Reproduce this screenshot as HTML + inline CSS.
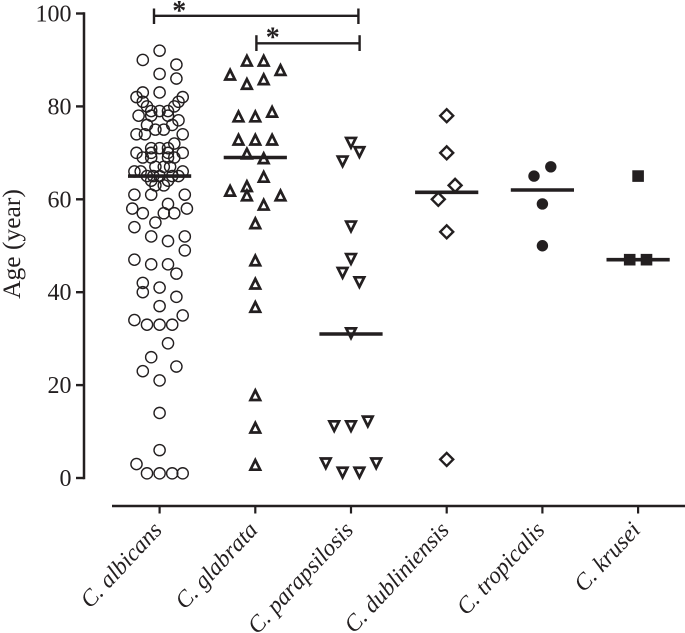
<!DOCTYPE html>
<html lang="en">
<head>
<meta charset="utf-8">
<title>Age by Candida species</title>
<style>
html,body{margin:0;padding:0;background:#fff;width:685px;height:633px;overflow:hidden}
svg{display:block}
text{font-family:"Liberation Serif",serif;fill:#231f20}
</style>
</head>
<body>
<svg id="chart" width="685" height="633" viewBox="0 0 685 633" xmlns="http://www.w3.org/2000/svg"></svg>
<script>
const categories = ['C. albicans','C. glabrata','C. parapsilosis','C. dubliniensis','C. tropicalis','C. krusei'];
const yTickLabels = [0,20,40,60,80,100];
const medians = [65,69,31,61.5,62,47];
const markerKinds = ['circle','triangle','inverted-triangle','diamond','filled-circle','filled-square'];

const albicansAges = [92,90,89,87,86,83,83,82,82,81,81,80,80,79,79,79,78,78,78,77,76,76,75,75,74,74,74,72,71,71,71,70,70,70,70,69,69,69,69,67,67,67,66,66,66,65,65,65,65,65,64,64,63,63,61,61,61,59,58,58,57,57,57,55,54,52,52,51,49,47,46,46,44,42,41,40,39,37,35,34,33,33,33,29,26,24,23,21,14,6,3,1,1,1,1];
const albicansSlots = [0,-4,4,0,4,-4,0,-5.5,5.5,-4,4.5,-3,3.5,-2,0,2,-5,-2,2,4.5,-3,3,-1,1,-5.5,-3.5,5.5,3.5,-2,0,2,-5.5,-2,2,5.5,-4,-2,2,3.5,-1,1,2.5,-6,-4.5,5.5,-3,-1.5,0,3,4.5,-2,2,-1,1,-6,-2,6,2,-6.5,6.5,-4,1,3.5,-1,-6,-2,6,2,6,-6,-2,2,4,-4,0,-4,4,0,5.5,-6,-3,0,3,2,-2,4,-4,0,0,0,-5.5,-3,0,3,5.5];
const glabrataAges = [90,90,88,87,86,85,79,78,78,73,73,73,70,69,65,63,62,61,61,59,55,47,42,37,18,11,3];
const glabrataSlots = [-2,2,6,-6,2,-2,4,-4,0,-4,0,4,-2,2,2,-2,-6,-2,6,2,0,0,0,0,0,0,0];
const parapsilosisAges = [72,70,68,54,47,44,42,31,12,11,11,3,3,1,1];
const parapsilosisSlots = [0,2,-2,0,0,-2,2,0,4,-4,0,-6,6,-2,2];
const dubliniensisAges = [78,70,63,60,53,4];
const dubliniensisSlots = [0,0,2,-2,0,0];
const tropicalisAges = [67,65,59,50];
const tropicalisSlots = [2,-2,0,0];
const kruseiAges = [65,47,47];
const kruseiSlots = [0,-2,2];

const seriesAges = [albicansAges,glabrataAges,parapsilosisAges,dubliniensisAges,tropicalisAges,kruseiAges];
const seriesSlots = [albicansSlots,glabrataSlots,parapsilosisSlots,dubliniensisSlots,tropicalisSlots,kruseiSlots];

const INK = '#231f20';
const svg = document.getElementById('chart');
const NS = 'http://www.w3.org/2000/svg';
const xScale = function(i){ return 159.6 + 95.7 * i; };
const yScale = function(v){ return 478 - 4.645 * v; };
const slotWidth = 4.2;

function make(tag, attrs, parent){
  const el = document.createElementNS(NS, tag);
  for (const k in attrs) el.setAttribute(k, attrs[k]);
  (parent || svg).appendChild(el);
  return el;
}
function slug(s){ return s.toLowerCase().replace(/[^a-z]+/g,'-').replace(/^-|-$/g,''); }

/* y axis */
const yAxisLine = make('line',{x1:84,x2:84,y1:yScale(100)-1.2,y2:yScale(0)+1.2,stroke:INK,'stroke-width':2.5});


yTickLabels.forEach(function(t){
  const tick = make('line',{x1:76,x2:84,y1:yScale(t),y2:yScale(t),stroke:INK,'stroke-width':2.4});
  
  
  const label = make('text',{x:71.5,y:yScale(t)+8,'text-anchor':'end','font-size':24});
  
  
  label.textContent = t;
});
const yTitle = make('text',{x:0,y:0,'text-anchor':'middle','font-size':25.5,transform:'translate(20,244) rotate(-90)'});


yTitle.textContent = 'Age (year)';

/* x axis */
const xAxisLine = make('line',{x1:112,x2:685,y1:506,y2:506,stroke:INK,'stroke-width':2.5});


categories.forEach(function(c,i){
  const x = xScale(i);
  const tick = make('line',{x1:x,x2:x,y1:506,y2:513.5,stroke:INK,'stroke-width':2.2});
  
  
  const label = make('text',{x:0,y:0,'text-anchor':'end','font-size':23.5,'font-style':'italic',transform:'translate('+(x+3.5)+',531) rotate(-47)'});
  
  
  label.textContent = c;
});

/* markers */
function drawMark(kind, cx, cy){
  let el;
  if (kind === 'circle') {
    el = make('circle',{cx:cx,cy:cy,r:5.6,fill:'none',stroke:INK,'stroke-width':1.4});
  } else if (kind === 'filled-circle') {
    el = make('circle',{cx:cx,cy:cy,r:5.7,fill:INK,stroke:'none'});
  } else if (kind === 'filled-square') {
    el = make('rect',{x:cx-5.8,y:cy-5.8,width:11.6,height:11.6,fill:INK,stroke:'none'});
  } else if (kind === 'triangle') {
    el = make('path',{d:'M'+cx+' '+(cy-4)+'L'+(cx+4.8)+' '+(cy+5.6)+'L'+(cx-4.8)+' '+(cy+5.6)+'Z',fill:'none',stroke:INK,'stroke-width':2.7,'stroke-linejoin':'miter','stroke-miterlimit':8});
  } else if (kind === 'inverted-triangle') {
    el = make('path',{d:'M'+cx+' '+(cy+4)+'L'+(cx+4.8)+' '+(cy-5.6)+'L'+(cx-4.8)+' '+(cy-5.6)+'Z',fill:'none',stroke:INK,'stroke-width':2.7,'stroke-linejoin':'miter','stroke-miterlimit':8});
  } else {
    el = make('path',{d:'M'+cx+' '+(cy-6.5)+'L'+(cx+6.5)+' '+cy+'L'+cx+' '+(cy+6.5)+'L'+(cx-6.5)+' '+cy+'Z',fill:'none',stroke:INK,'stroke-width':2.4});
  }
  return el;
}
categories.forEach(function(c,i){
  const name = slug(c);
  const group = make('g',{});
  
  
  seriesAges[i].forEach(function(v,j){
    const p = drawMark(markerKinds[i], xScale(i) + seriesSlots[i][j] * slotWidth, yScale(v));
    group.appendChild(p);
    
    
  });
  const line = make('line',{x1:xScale(i)-31.6,x2:xScale(i)+31.6,y1:yScale(medians[i]),y2:yScale(medians[i]),stroke:INK,'stroke-width':3.6},group);
  
  
});
</script>
<svg width="685" height="633" viewBox="0 0 685 633" style="position:absolute;left:0;top:0" xmlns="http://www.w3.org/2000/svg">
  <g stroke="#231f20" fill="none">
    <line x1="154" x2="358" y1="15.8" y2="15.8" stroke-width="2.4"/>
    <line x1="154" x2="154" y1="8.5" y2="24" stroke-width="2.4"/>
    <line x1="358.4" x2="358.4" y1="8.5" y2="24" stroke-width="2.4"/>
  </g>
  <text x="179.3" y="20" text-anchor="middle" font-size="28" font-weight="bold">*</text>
  <g stroke="#231f20" fill="none">
    <line x1="256.4" x2="359.6" y1="43.3" y2="43.3" stroke-width="2.4"/>
    <line x1="256.4" x2="256.4" y1="35.2" y2="51" stroke-width="2.4"/>
    <line x1="359.6" x2="359.6" y1="35.2" y2="51" stroke-width="2.4"/>
  </g>
  <text x="272.7" y="46.5" text-anchor="middle" font-size="28" font-weight="bold">*</text>
</svg>
</body>
</html>
